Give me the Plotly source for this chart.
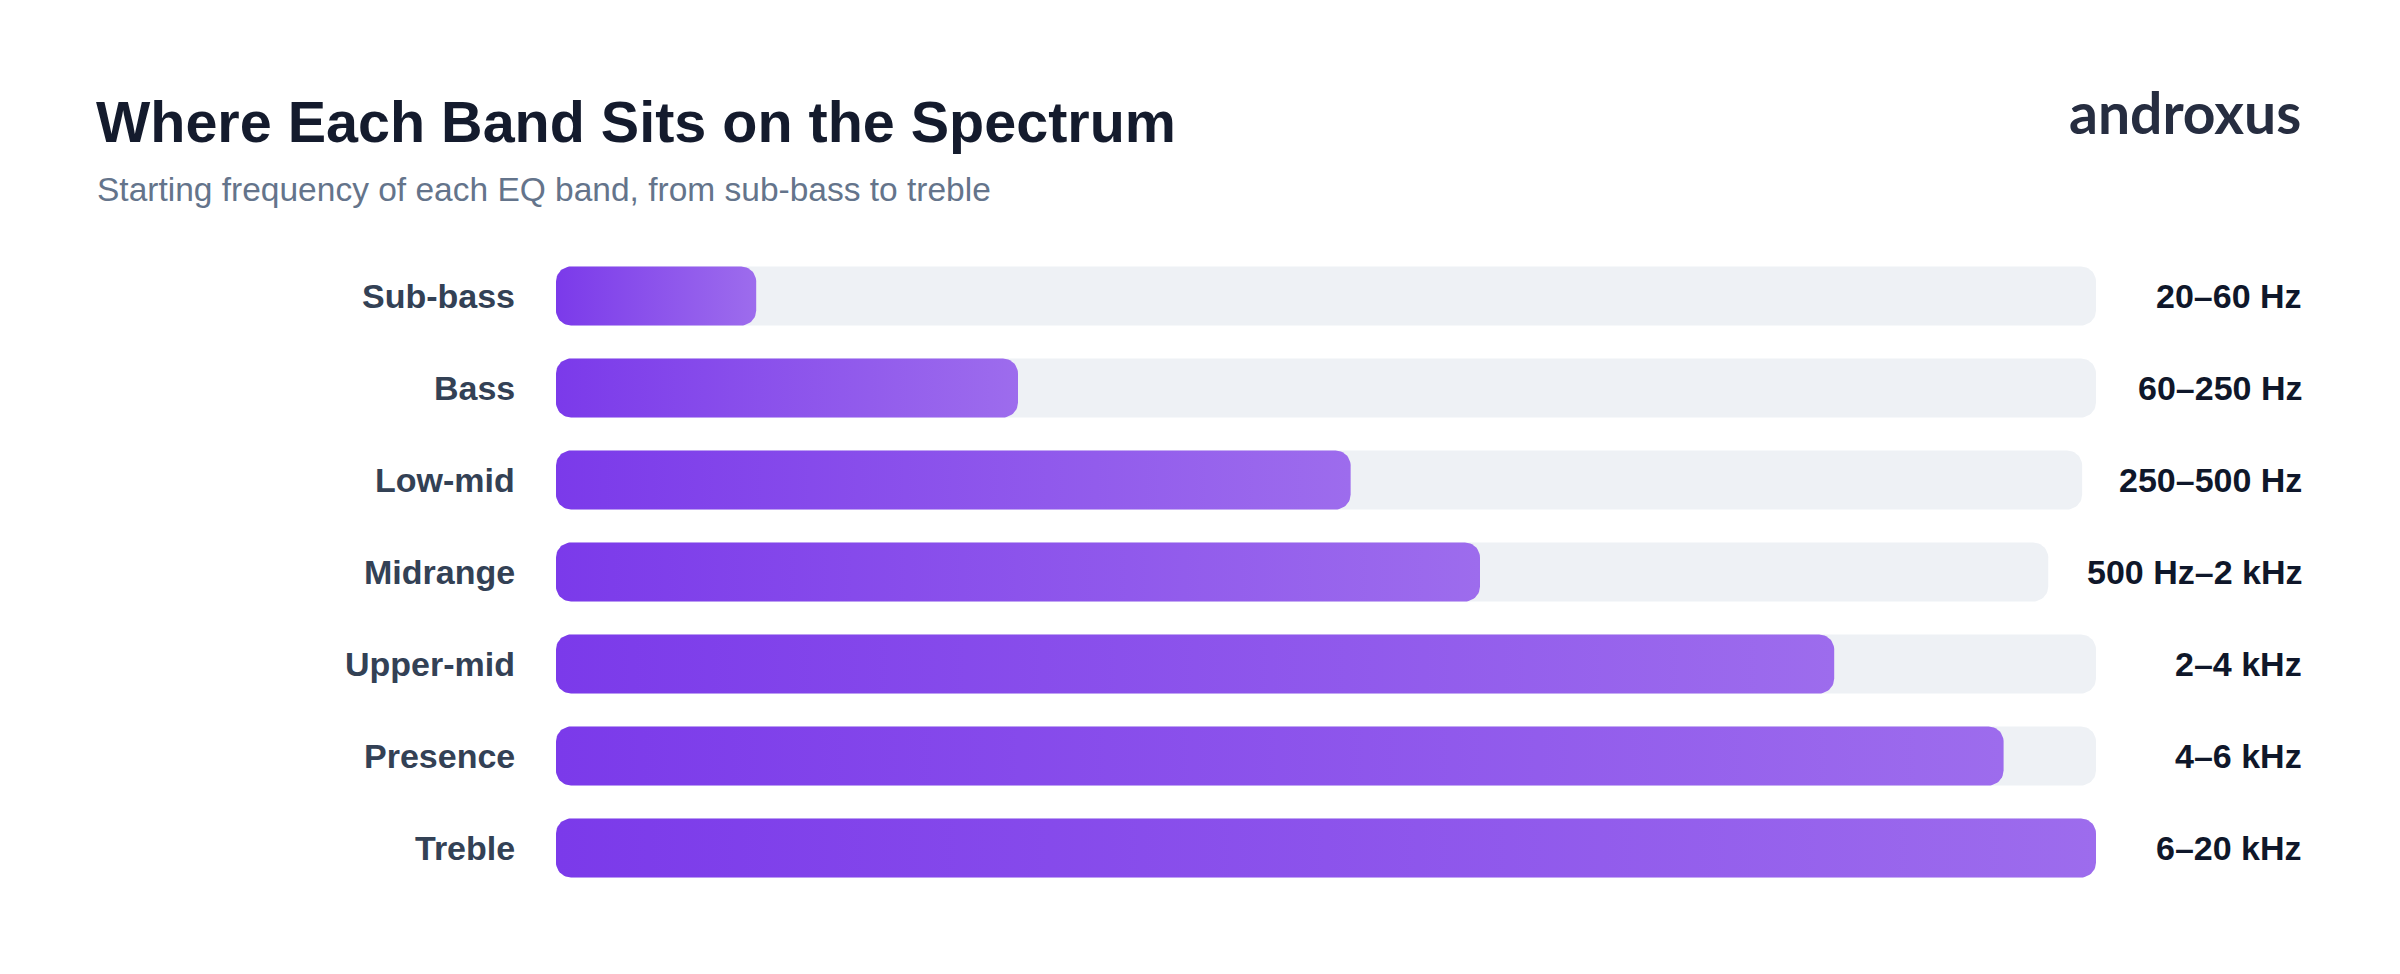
import numpy as np
import plotly.graph_objects as go

# ---------------- data ----------------
bands = ["Sub-bass", "Bass", "Low-mid", "Midrange", "Upper-mid", "Presence", "Treble"]
ranges = ["20–60 Hz", "60–250 Hz", "250–500 Hz", "500 Hz–2 kHz", "2–4 kHz", "4–6 kHz", "6–20 kHz"]
position = [13.0, 30.0, 51.6, 60.0, 83.0, 94.0, 100.0]   # position on spectrum (% of scale)
track_end = [100.0, 100.0, 99.1, 96.9, 100.0, 100.0, 100.0]

title = "Where Each Band Sits on the Spectrum"
subtitle = "Starting frequency of each EQ band, from sub-bass to treble"
brand = "androxus"

# ---------------- layout geometry ----------------
W, H = 2400, 974
ML, MR, MT, MB = 556, 304, 250, 80
plot_w = W - ML - MR
plot_h = H - MT - MB
XMAX = 100.0
n = len(bands)
px_x = plot_w / XMAX
px_y = plot_h / n

BAR_HALF_PX = 29.5
RADIUS_PX = 15

FONT = "Liberation Sans, Arial, Helvetica, sans-serif"


def px2x(p):
    return (p - ML) / plot_w


def py2y(p):
    return 1 - (p - MT) / plot_h


def rounded_rect(x0, x1, yc):
    hy = BAR_HALF_PX / px_y
    rx = min(RADIUS_PX / px_x, (x1 - x0) / 2)
    ry = RADIUS_PX / px_y
    ylo, yhi = yc - hy, yc + hy
    corners = [
        (x1 - rx, yhi - ry, 0.0),
        (x0 + rx, yhi - ry, np.pi / 2),
        (x0 + rx, ylo + ry, np.pi),
        (x1 - rx, ylo + ry, 1.5 * np.pi),
    ]
    xs, ys = [], []
    for cx, cy, a0 in corners:
        t = np.linspace(a0, a0 + np.pi / 2, 14)
        xs.extend(cx + rx * np.cos(t))
        ys.extend(cy + ry * np.sin(t))
    xs.append(xs[0])
    ys.append(ys[0])
    return xs, ys


fig = go.Figure()

for i, (b, v, te) in enumerate(zip(bands, position, track_end)):
    tx, ty = rounded_rect(0, te, i)
    fig.add_trace(go.Scatter(
        x=tx, y=ty, mode="lines", fill="toself",
        fillcolor="#eef1f5", line=dict(width=0, color="rgba(0,0,0,0)"),
        hoverinfo="skip", showlegend=False,
    ))
    bx, by = rounded_rect(0, v, i)
    fig.add_trace(go.Scatter(
        x=bx, y=by, mode="lines", fill="toself",
        fillgradient=dict(type="horizontal",
                          colorscale=[[0, "#7b3aea"], [1, "#9d6ced"]]),
        line=dict(width=0, color="rgba(0,0,0,0)"),
        name=b, hovertemplate=f"{b}: {ranges[i]}<extra></extra>", showlegend=False,
    ))

annotations = []
for i, (b, r) in enumerate(zip(bands, ranges)):
    annotations.append(dict(
        x=px2x(517), xref="paper", y=i, yref="y", text=f"<b>{b}</b>",
        xanchor="right", yanchor="middle", showarrow=False,
        font=dict(family=FONT, size=34, color="#334155"),
    ))
    annotations.append(dict(
        x=px2x(2304), xref="paper", y=i, yref="y", text=f"<b>{r}</b>",
        xanchor="right", yanchor="middle", showarrow=False,
        font=dict(family=FONT, size=34, color="#0f172a"),
    ))

annotations.append(dict(
    x=px2x(94), xref="paper", y=py2y(122), yref="paper", text=f"<b>{title}</b>",
    xanchor="left", yanchor="middle", showarrow=False,
    font=dict(family=FONT, size=57.5, color="#141b2d"),
))
annotations.append(dict(
    x=px2x(95), xref="paper", y=py2y(190), yref="paper", text=subtitle,
    xanchor="left", yanchor="middle", showarrow=False,
    font=dict(family=FONT, size=33.5, color="#64748b"),
))
annotations.append(dict(
    x=px2x(2303), xref="paper", y=py2y(112), yref="paper", text=f"<b>{brand}</b>",
    xanchor="right", yanchor="middle", showarrow=False,
    font=dict(family="Lato, Inter, sans-serif", size=57, color="#262d40"),
))

fig.update_layout(
    width=W, height=H,
    margin=dict(l=ML, r=MR, t=MT, b=MB),
    paper_bgcolor="white", plot_bgcolor="white",
    xaxis=dict(range=[0, XMAX], visible=False, fixedrange=True),
    yaxis=dict(range=[n - 0.5, -0.5], visible=False, fixedrange=True),
    annotations=annotations,
    showlegend=False,
)

fig.write_html("out.html")
